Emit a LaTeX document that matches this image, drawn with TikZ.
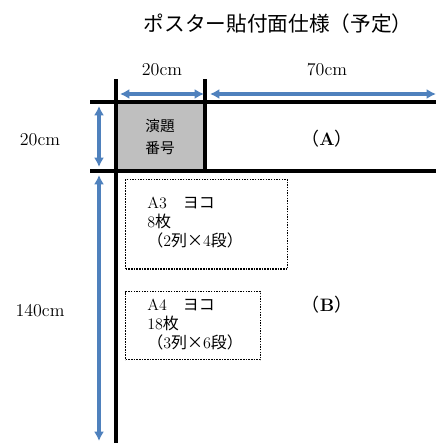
\documentclass[tikz,border=0pt]{standalone}
\usepackage{fontspec}
\newfontfamily\jp{Noto Sans CJK JP}
\usetikzlibrary{arrows.meta}

\definecolor{dimblue}{HTML}{4F81BD}
\definecolor{boxgray}{HTML}{BFBFBF}

\tikzset{
  dim/.style={dimblue,line width=2.6pt,
    {Latex[length=7pt,width=7.5pt]}-{Latex[length=7pt,width=7.5pt]}},
  frame/.style={line width=2.3pt},
  slot/.style={draw,dash pattern=on 1.1pt off 0.9pt,line width=1.1pt,anchor=north west,inner sep=0pt},
  lbl/.style={font=\fontsize{13.5}{16}\selectfont},
  slottext/.style={anchor=north west,align=left,inner sep=0pt,
    font=\fontsize{12}{14.2}\selectfont},
}

\begin{document}
\begin{tikzpicture}[x=0.75pt,y=-0.75pt]
  \useasboundingbox (0,0) rectangle (436,443);

  % title
  \node[font=\fontsize{15.5}{18}\selectfont\jp] (title) at (278,24) {ポスター貼付面仕様（予定）};

  % corner points of the board
  \coordinate (tl) at (116,102);
  \coordinate (tm) at (205,102);
  \coordinate (ml) at (116,171);
  \coordinate (mm) at (205,171);

  % gray number box
  \fill[boxgray] (tl) rectangle (mm);
  \node[font=\fontsize{11}{16}\selectfont\jp,align=center] (num) at (160,137) {演題\\番号};

  % black frame lines
  \draw[frame] (116,79) -- (116,443);
  \draw[frame] (205,79) -- (mm);
  \draw[frame] (90,102) -- (436,102);
  \draw[frame] (90,171) -- (436,171);

  % dimension arrows
  \coordinate (h0) at (120,94);
  \coordinate (h1) at (204,94);
  \coordinate (h2) at (210,94);
  \coordinate (h3) at (436,94);
  \coordinate (v0) at (99,106);
  \coordinate (v1) at (99,167);
  \coordinate (v2) at (99,175);
  \coordinate (v3) at (99,441);
  \draw[dim] (h0) -- (h1);
  \draw[dim] (h2) -- (h3);
  \draw[dim] (v0) -- (v1);
  \draw[dim] (v2) -- (v3);

  \node[lbl] (w20) at (162,70) {20cm};
  \node[lbl] (w70) at (327,70) {70cm};
  \node[lbl] (h20) at (40,140) {20cm};
  \node[lbl] (h140) at (40,311) {140cm};

  % areas
  \node[lbl] (areaA) at (327,139) {{\jp （}\textbf{A}{\jp ）}};
  \node[lbl] (areaB) at (327,305) {{\jp （}\textbf{B}{\jp ）}};

  % poster slots
  \node[slot,minimum width=121.5pt,minimum height=67pt] (a3) at (125,179) {};
  \node[slottext] (a3text) at (147,197) {A3{\jp 　ヨコ}\\8{\jp 枚}\\{\jp （}2{\jp 列×}4{\jp 段）}};
  \node[slot,minimum width=101pt,minimum height=51pt] (a4) at (125,291) {};
  \node[slottext] (a4text) at (147,299) {A4{\jp 　ヨコ}\\18{\jp 枚}\\{\jp （}3{\jp 列×}6{\jp 段）}};
\end{tikzpicture}
\end{document}
